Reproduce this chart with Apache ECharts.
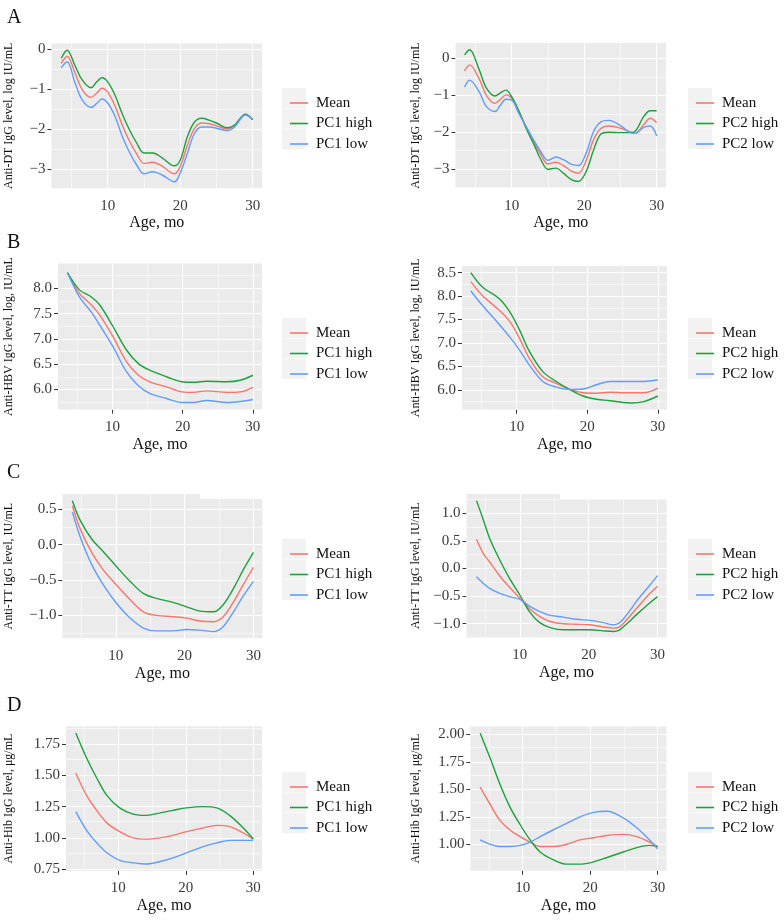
<!DOCTYPE html>
<html><head><meta charset="utf-8">
<script src="https://cdn.jsdelivr.net/npm/echarts@6/dist/echarts.min.js"></script>
<style>html,body{margin:0;padding:0;background:#fff}#c{width:784px;height:921px}</style>
</head><body><div id="c"></div>
<script>
// ---------- DATA ----------
const xTicks = [10, 20, 30];
const xMinor = [5, 15, 25];
const namesPC1 = ['Mean', 'PC1 high', 'PC1 low'];
const namesPC2 = ['Mean', 'PC2 high', 'PC2 low'];

// A: Anti-DT
const ageA1 = [3.6, 4.4, 5.5, 6.5, 7.7, 8.5, 9.2, 10, 11, 12, 13, 14, 15, 16.2, 17.5, 19.2, 20, 21, 22, 23, 24, 25, 26.5, 27.5, 29, 30];
const meanA1 = [-0.36, -0.18, -0.6, -1.02, -1.21, -1.1, -0.98, -1.08, -1.42, -1.9, -2.3, -2.62, -2.86, -2.83, -2.93, -3.12, -2.94, -2.4, -1.98, -1.85, -1.87, -1.92, -2.0, -1.92, -1.64, -1.76];
const highA1 = [-0.23, -0.03, -0.42, -0.78, -0.97, -0.82, -0.72, -0.82, -1.15, -1.62, -2.02, -2.35, -2.6, -2.6, -2.72, -2.92, -2.78, -2.19, -1.82, -1.73, -1.78, -1.85, -1.97, -1.9, -1.63, -1.77];
const lowA1 = [-0.47, -0.32, -0.85, -1.28, -1.46, -1.36, -1.25, -1.35, -1.68, -2.18, -2.58, -2.9, -3.12, -3.07, -3.15, -3.32, -3.1, -2.6, -2.1, -1.95, -1.95, -1.98, -2.04, -1.95, -1.65, -1.76];

const ageA2 = [3.5, 4.2, 5.5, 6.5, 7.7, 8.5, 9.2, 10, 11, 12, 13, 14, 15, 16.1, 17.2, 18.3, 19.2, 20.3, 21.3, 22.3, 23.4, 25, 26.2, 27, 28.2, 29.1, 30];
const meanA2 = [-0.34, -0.18, -0.55, -1.0, -1.22, -1.1, -0.99, -1.08, -1.45, -1.85, -2.25, -2.6, -2.86, -2.81, -2.91, -3.06, -3.11, -2.75, -2.2, -1.9, -1.83, -1.89, -1.98, -2.03, -1.8, -1.62, -1.74];
const highA2 = [0.09, 0.23, -0.3, -0.8, -1.02, -0.93, -0.86, -1.04, -1.43, -1.9, -2.3, -2.73, -3.0, -2.97, -3.12, -3.29, -3.33, -3.05, -2.48, -2.05, -2.0, -2.01, -2.01, -1.98, -1.58, -1.42, -1.42];
const lowA2 = [-0.78, -0.59, -0.9, -1.3, -1.44, -1.25, -1.11, -1.13, -1.5, -1.85, -2.2, -2.52, -2.76, -2.67, -2.75, -2.87, -2.9, -2.55, -1.98, -1.72, -1.68, -1.82, -2.0, -2.03, -1.87, -1.83, -2.1];

// B: Anti-HBV
const ageB1 = [3.6, 5.3, 7, 8.2, 10.1, 12, 13.7, 15.3, 17.7, 19.9, 21.5, 23.4, 26.3, 28.2, 30];
const meanB1 = [8.31, 7.9, 7.67, 7.47, 7.04, 6.55, 6.28, 6.15, 6.05, 5.95, 5.94, 5.97, 5.94, 5.95, 6.04];
const highB1 = [8.31, 7.97, 7.83, 7.67, 7.24, 6.78, 6.51, 6.38, 6.25, 6.15, 6.14, 6.16, 6.15, 6.18, 6.28];
const lowB1 = [8.31, 7.83, 7.53, 7.27, 6.84, 6.35, 6.07, 5.92, 5.82, 5.74, 5.74, 5.78, 5.74, 5.76, 5.8];

const ageB2 = [3.5, 5.1, 7.5, 9, 10.4, 11.8, 13.7, 15.6, 17.5, 19.4, 21.3, 23.2, 25.1, 26.3, 28, 30];
const meanB2 = [8.31, 8.02, 7.7, 7.46, 7.1, 6.67, 6.28, 6.14, 6.01, 5.94, 5.93, 5.95, 5.94, 5.94, 5.94, 6.04];
const highB2 = [8.5, 8.2, 7.95, 7.67, 7.28, 6.82, 6.39, 6.18, 6.01, 5.87, 5.8, 5.77, 5.73, 5.72, 5.75, 5.87];
const lowB2 = [8.11, 7.81, 7.4, 7.13, 6.85, 6.53, 6.18, 6.06, 6.01, 6.02, 6.11, 6.18, 6.18, 6.18, 6.18, 6.21];

// C: Anti-TT
const ageC1 = [3.7, 4.8, 6.5, 8.2, 10.1, 12.1, 14, 15.9, 18.4, 20.3, 22.2, 24.2, 25.6, 27.1, 28.5, 30];
const meanC1 = [0.55, 0.23, -0.11, -0.36, -0.57, -0.78, -0.95, -1.0, -1.02, -1.04, -1.08, -1.09, -1.02, -0.81, -0.57, -0.32];
const highC1 = [0.62, 0.35, 0.08, -0.1, -0.31, -0.52, -0.69, -0.76, -0.82, -0.88, -0.94, -0.95, -0.85, -0.62, -0.36, -0.11];
const lowC1 = [0.46, 0.12, -0.28, -0.57, -0.83, -1.04, -1.18, -1.22, -1.22, -1.2, -1.21, -1.23, -1.16, -0.95, -0.73, -0.52];

const ageC2 = [3.7, 4.7, 5.6, 7.1, 8.5, 10, 11.5, 12.9, 14.4, 16.3, 18.2, 20.2, 22.1, 23.6, 24.4, 25, 26, 26.9, 28.9, 30];
const meanC2 = [0.53, 0.27, 0.12, -0.14, -0.34, -0.54, -0.74, -0.87, -0.96, -1.0, -1.01, -1.02, -1.06, -1.08, -1.06, -1.0, -0.86, -0.73, -0.45, -0.32];
const highC2 = [1.23, 0.88, 0.55, 0.15, -0.18, -0.48, -0.8, -0.98, -1.07, -1.11, -1.11, -1.11, -1.13, -1.14, -1.12, -1.06, -0.95, -0.84, -0.62, -0.51];
const lowC2 = [-0.15, -0.27, -0.36, -0.45, -0.51, -0.56, -0.69, -0.78, -0.85, -0.88, -0.92, -0.94, -0.98, -1.02, -0.99, -0.92, -0.76, -0.6, -0.3, -0.13];

// D: Anti-Hib
const ageD1 = [3.7, 5.3, 6.8, 8.3, 10.2, 12.2, 14.2, 16.2, 18.1, 20.1, 22.6, 24.6, 26.5, 28.5, 30];
const meanD1 = [1.52, 1.34, 1.22, 1.12, 1.05, 1.0, 0.99, 1.0, 1.02, 1.05, 1.08, 1.1, 1.09, 1.04, 0.99];
const highD1 = [1.84, 1.64, 1.48, 1.34, 1.24, 1.19, 1.18, 1.2, 1.22, 1.24, 1.25, 1.24, 1.18, 1.08, 0.99];
const lowD1 = [1.21, 1.06, 0.96, 0.88, 0.82, 0.8, 0.79, 0.81, 0.84, 0.88, 0.93, 0.96, 0.98, 0.98, 0.98];

const ageD2 = [3.7, 5.2, 6.6, 8.1, 9.6, 11.1, 12.6, 14.5, 16.5, 18.5, 20.5, 22.5, 24.9, 26.9, 28.8, 30];
const meanD2 = [1.52, 1.36, 1.22, 1.13, 1.07, 1.02, 0.98, 0.98, 1.0, 1.04, 1.06, 1.08, 1.09, 1.07, 1.02, 0.98];
const highD2 = [2.01, 1.78, 1.55, 1.34, 1.18, 1.04, 0.93, 0.86, 0.82, 0.82, 0.84, 0.88, 0.93, 0.97, 0.99, 0.98];
const lowD2 = [1.04, 1.0, 0.98, 0.98, 0.99, 1.02, 1.07, 1.13, 1.19, 1.25, 1.29, 1.3, 1.24, 1.15, 1.04, 0.96];

// tick labels
const yTicksA = [-3, -2, -1, 0];
const yTicksB1 = [6.0, 6.5, 7.0, 7.5, 8.0];
const yTicksB2 = [6.0, 6.5, 7.0, 7.5, 8.0, 8.5];
const yTicksC1 = [-1.0, -0.5, 0.0, 0.5];
const yTicksC2 = [-1.0, -0.5, 0.0, 0.5, 1.0];
const yTicksD1 = [0.75, 1.00, 1.25, 1.50, 1.75];
const yTicksD2 = [1.00, 1.25, 1.50, 1.75, 2.00];
const yMinorA1 = [-2.5, -1.5, -0.5];
const yMinorA2 = [-3.5, -2.5, -1.5, -0.5];
const yMinorB = [5.75, 6.25, 6.75, 7.25, 7.75, 8.25];
const yMinorC1 = [-1.25, -0.75, -0.25, 0.25];
const yMinorC2 = [-0.75, -0.25, 0.25, 0.75, 1.25];
const yMinorD1 = [0.875, 1.125, 1.375, 1.625, 1.875];
const yMinorD2 = [0.875, 1.125, 1.375, 1.625, 1.875];

const titleA = 'Anti-DT IgG level, log IU/mL';
const titleB = 'Anti-HBV IgG level, log, IU/mL';
const titleC = 'Anti-TT IgG level, IU/mL';
const titleD = 'Anti-Hib IgG level, μg/mL';
const xTitle = 'Age, mo';

const panels = [
  {age: ageA1, mean: meanA1, high: highA1, low: lowA1, names: namesPC1, yTicks: yTicksA, yMinor: yMinorA1, dec: 0, yTitle: titleA},
  {age: ageA2, mean: meanA2, high: highA2, low: lowA2, names: namesPC2, yTicks: yTicksA, yMinor: yMinorA2, dec: 0, yTitle: titleA},
  {age: ageB1, mean: meanB1, high: highB1, low: lowB1, names: namesPC1, yTicks: yTicksB1, yMinor: yMinorB, dec: 1, yTitle: titleB},
  {age: ageB2, mean: meanB2, high: highB2, low: lowB2, names: namesPC2, yTicks: yTicksB2, yMinor: yMinorB, dec: 1, yTitle: titleB},
  {age: ageC1, mean: meanC1, high: highC1, low: lowC1, names: namesPC1, yTicks: yTicksC1, yMinor: yMinorC1, dec: 1, yTitle: titleC},
  {age: ageC2, mean: meanC2, high: highC2, low: lowC2, names: namesPC2, yTicks: yTicksC2, yMinor: yMinorC2, dec: 1, yTitle: titleC},
  {age: ageD1, mean: meanD1, high: highD1, low: lowD1, names: namesPC1, yTicks: yTicksD1, yMinor: yMinorD1, dec: 2, yTitle: titleD},
  {age: ageD2, mean: meanD2, high: highD2, low: lowD2, names: namesPC2, yTicks: yTicksD2, yMinor: yMinorD2, dec: 2, yTitle: titleD}
];

// ---------- LAYOUT ----------
const layout = [
  {grid: {left: 51.5, top: 43.4, width: 210.6, height: 144.8}, yMin: -3.48, yMax: 0.14, titleEdge: 15, legLeft: 285, legTop: 88},
  {grid: {left: 455.5, top: 43.1, width: 210.6, height: 145}, yMin: -3.51, yMax: 0.41, titleEdge: 422, legLeft: 691, legTop: 88},
  {grid: {left: 58, top: 263.6, width: 204, height: 146}, yMin: 5.6, yMax: 8.49, titleEdge: 15, legLeft: 285, legTop: 318},
  {grid: {left: 462, top: 266.1, width: 205, height: 143.5}, yMin: 5.58, yMax: 8.64, titleEdge: 422, legLeft: 691, legTop: 318},
  {grid: {left: 62.4, top: 494, width: 200, height: 144.3}, yMin: -1.325, yMax: 0.716, titleEdge: 15, legLeft: 285, legTop: 539},
  {grid: {left: 466.5, top: 494, width: 200, height: 143.5}, yMin: -1.25, yMax: 1.35, titleEdge: 422, legLeft: 691, legTop: 539},
  {grid: {left: 66, top: 726.2, width: 196, height: 144.7}, yMin: 0.735, yMax: 1.895, titleEdge: 15, legLeft: 285, legTop: 772},
  {grid: {left: 470.4, top: 726.6, width: 196, height: 144.1}, yMin: 0.76, yMax: 2.07, titleEdge: 422, legLeft: 691, legTop: 772}
];
const X_MIN = 2.25, X_MAX = 31.3;
const FONT = '"Liberation Serif", "DejaVu Serif", serif';
const COL = ['#F8766D', '#1BA23C', '#619CFF'];
const letters = [{t: 'A', top: 3}, {t: 'B', top: 228}, {t: 'C', top: 458}, {t: 'D', top: 691}];

const fmt = (d) => (v) => (v < 0 ? '\u2212' : '') + Math.abs(v).toFixed(d);
const pairs = (xs, ys) => xs.map((x, i) => [x, ys[i]]);

const grids = [], xAxes = [], yAxes = [], series = [], legends = [], graphics = [];
panels.forEach((p, i) => {
  const L = layout[i];
  grids.push(Object.assign({show: true, backgroundColor: '#EBEBEB', borderWidth: 0, containLabel: false}, L.grid));
  xAxes.push({
    type: 'value', gridIndex: i, min: X_MIN, max: X_MAX,
    axisLine: {show: false},
    axisTick: {show: true, customValues: xTicks, length: 4, lineStyle: {color: '#333', width: 1}},
    axisLabel: {customValues: xTicks, color: '#3a3a3a', fontFamily: FONT, fontSize: 15, margin: 10},
    splitLine: {show: false},
    name: xTitle, nameLocation: 'middle', nameGap: 27,
    nameTextStyle: {fontFamily: FONT, fontSize: 16, color: '#111'}
  });
  yAxes.push({
    type: 'value', gridIndex: i, min: L.yMin, max: L.yMax,
    axisLine: {show: false},
    axisTick: {show: true, customValues: p.yTicks, length: 4, lineStyle: {color: '#333', width: 1}},
    axisLabel: {customValues: p.yTicks, color: '#3a3a3a', fontFamily: FONT, fontSize: 15, margin: 6, formatter: fmt(p.dec)},
    splitLine: {show: false},
    name: p.yTitle, nameLocation: 'middle', nameRotate: 90, nameGap: L.grid.left - L.titleEdge,
    nameTextStyle: {fontFamily: FONT, fontSize: 12, color: '#111'}
  });
  // grid lines drawn through the axis scales
  const ml = [];
  xTicks.forEach(v => ml.push({xAxis: v, lineStyle: {width: 1.1}}));
  xMinor.forEach(v => ml.push({xAxis: v, lineStyle: {width: 0.55}}));
  p.yTicks.forEach(v => ml.push({yAxis: v, lineStyle: {width: 1.1}}));
  p.yMinor.forEach(v => ml.push({yAxis: v, lineStyle: {width: 0.55}}));
  series.push({
    type: 'line', xAxisIndex: i, yAxisIndex: i, data: [], silent: true, z: 1,
    markLine: {silent: true, z: 1, symbol: ['none', 'none'], label: {show: false}, animation: false,
      lineStyle: {color: '#ffffff', type: 'solid'}, emphasis: {disabled: true}, data: ml}
  });
  const vals = [p.mean, p.high, p.low];
  vals.forEach((ys, k) => {
    series.push({
      type: 'line', name: p.names[k], xAxisIndex: i, yAxisIndex: i, z: 3,
      data: pairs(p.age, ys), smooth: 0.35, symbol: 'none', showSymbol: false,
      lineStyle: {color: COL[k], width: 1.4}, itemStyle: {color: COL[k]},
      emphasis: {disabled: true}
    });
  });
  legends.push({
    orient: 'vertical', left: L.legLeft, top: L.legTop, data: p.names,
    icon: 'rect', itemWidth: 18, itemHeight: 1.6, itemGap: 0.5, selectedMode: false,
    textStyle: {fontFamily: FONT, fontSize: 15, color: '#111', lineHeight: 20, height: 20, padding: [0, 0, 0, 3]}
  });
  for (let k = 0; k < 3; k++) {
    graphics.push({type: 'rect', left: L.legLeft - 3, top: L.legTop + k * 20.5, z: -1,
      shape: {width: 24, height: 20}, style: {fill: '#F2F2F2'}});
  }
});
// white notches at the top of the C panels
graphics.push({type: 'rect', left: 200, top: 493.5, z: 50, shape: {width: 64, height: 5.5}, style: {fill: '#fff'}});
graphics.push({type: 'rect', left: 560, top: 493.5, z: 50, shape: {width: 108, height: 5.5}, style: {fill: '#fff'}});

const titles = letters.map(l => ({text: l.t, left: 2, top: l.top,
  textStyle: {fontFamily: FONT, fontSize: 20, fontWeight: 'normal', color: '#111'}}));

const chart = echarts.init(document.getElementById('c'), null, {renderer: 'canvas'});
chart.setOption({
  animation: false,
  backgroundColor: '#ffffff',
  title: titles,
  grid: grids, xAxis: xAxes, yAxis: yAxes, series: series, legend: legends,
  graphic: graphics
});
</script></body></html>
